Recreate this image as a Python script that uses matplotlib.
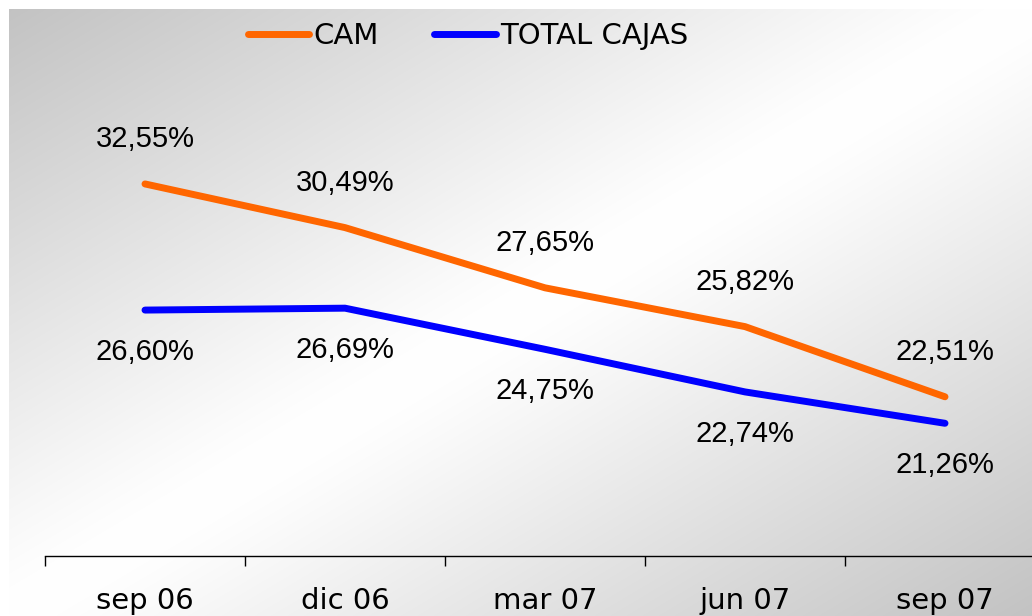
import numpy as np
import matplotlib
matplotlib.use("Agg")
from matplotlib import pyplot as plt

periodos = ["sep 06", "dic 06", "mar 07", "jun 07", "sep 07"]
cam = [32.55, 30.49, 27.65, 25.82, 22.51]
total_cajas = [26.60, 26.69, 24.75, 22.74, 21.26]
etiquetas_cam = ["32,55%", "30,49%", "27,65%", "25,82%", "22,51%"]
etiquetas_total = ["26,60%", "26,69%", "24,75%", "22,74%", "21,26%"]

fig = plt.figure(figsize=(10.32, 6.16), dpi=100)
fig.patch.set_facecolor("white")

# fondo degradado diagonal (gris en esquinas, blanco en el centro)
W, H = 1023, 607
xx, yy = np.meshgrid(np.linspace(0, 1, W), np.linspace(0, 1, H))
s = np.sqrt((xx + yy - 1) ** 2 + 0.06 ** 2) - 0.06
g = (255 - 64 * s) / 255.0
fondo = np.dstack([g, g, g])
fig.figimage(fondo, xo=9, yo=0, origin="upper", zorder=0)

ax = fig.add_axes([45 / 1032, 1 - 556 / 616, 1000 / 1032, 424 / 616], zorder=2)
ax.set_facecolor("none")
x = np.arange(len(periodos))

ax.plot(x, cam, color="#FF6600", lw=5, solid_capstyle="round",
        solid_joinstyle="round", label="CAM")
ax.plot(x, total_cajas, color="#0000FF", lw=5, solid_capstyle="round",
        solid_joinstyle="round", label="TOTAL CAJAS")

for i in range(len(x)):
    ax.annotate(etiquetas_cam[i], (x[i], cam[i]), xytext=(0, 45),
                textcoords="offset pixels", ha="center", va="center",
                fontsize=21, family="Liberation Sans")
    ax.annotate(etiquetas_total[i], (x[i], total_cajas[i]), xytext=(0, -42),
                textcoords="offset pixels", ha="center", va="center",
                fontsize=21, family="Liberation Sans")

ax.set_xlim(-0.5, 4.5)
ax.set_ylim(15, 35)
ax.set_xticks(np.arange(-0.5, 5, 1))
ax.set_xticklabels([])
ax.tick_params(axis="x", which="major", direction="out", length=7.2,
               width=1, color="black")
ax.set_xticks(x, minor=True)
ax.set_xticklabels(periodos, minor=True, fontsize=21, family="DejaVu Sans")
ax.tick_params(axis="x", which="minor", length=0, pad=22)
ax.set_yticks([])
for lado in ["left", "top", "right"]:
    ax.spines[lado].set_visible(False)
ax.spines["bottom"].set_color("black")
ax.spines["bottom"].set_linewidth(1)

leg = fig.legend(loc="center", bbox_to_anchor=(468 / 1032, 1 - 36 / 616), ncol=2,
                 frameon=False, prop={"family": "DejaVu Sans", "size": 21},
                 handlelength=2.1, handletextpad=0.15, columnspacing=1.9)
leg.set_zorder(3)

fig.savefig("out.png", dpi=100)
